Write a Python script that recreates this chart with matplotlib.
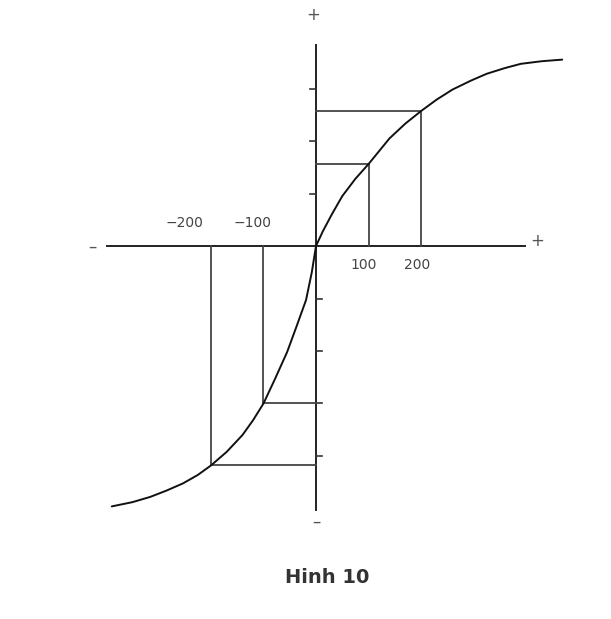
import matplotlib.pyplot as plt

# curve (x in units, y in units where one tick = 100)
curve_x = [-389, -350, -316, -285, -253, -225, -200, -170, -140, -120, -100,
           -78, -55, -37, -19, -8, 0,
           13, 30, 50, 75, 100, 140, 170, 200, 230, 260, 295, 325, 360, 390, 430, 469]
curve_y = [-496, -488, -478, -466, -452, -436, -418, -392, -360, -332, -300,
           -253, -202, -153, -103, -50, 0,
           28, 60, 95, 128, 156, 205, 233, 257, 279, 298, 315, 328, 339, 347, 352, 355]

# marked points with guide lines
mark_x = [-200, -100, 100, 200]
mark_y = [-418, -300, 156, 257]

x_labels = ["\u2212200", "\u2212100", "100", "200"]
y_ticks_up = [100, 200, 300]
y_ticks_down = [-400, -300, -200, -100]

fig = plt.figure(figsize=(6.11, 6.19), dpi=100)
ax = fig.add_axes([0, 0, 1, 1])
ax.set_xlim(-601.9, 561.9)
ax.set_ylim(-710.5, 468.6)
ax.axis("off")

# axes
ax.plot([-398, 398], [0, 0], color="#222222", lw=1.4)
ax.plot([0, 0], [-503, 383], color="#222222", lw=1.4)
for t in y_ticks_up:
    ax.plot([-12, 0], [t, t], color="#333333", lw=1.2)
for t in y_ticks_down:
    ax.plot([0, 12], [t, t], color="#333333", lw=1.2)

# guide lines
for mx, my in zip(mark_x, mark_y):
    ax.plot([mx, mx], [0, my], color="#444444", lw=1.3)
    ax.plot([0, mx], [my, my], color="#444444", lw=1.3)

# curve
ax.plot(curve_x, curve_y, color="#111111", lw=1.4,
        solid_joinstyle="round", solid_capstyle="round")

# labels
fs = 10
txt = dict(color="#444444", fontsize=fs, ha="center", va="center")
ax.text(-250, 44, x_labels[0], **txt)
ax.text(-120, 44, x_labels[1], **txt)
ax.text(90, -37, x_labels[2], **txt)
ax.text(193, -37, x_labels[3], **txt)

sign = dict(color="#555555", fontsize=12, ha="center", va="center")
ax.text(-425, -2, "\u2013", **sign)
ax.text(421, 9, "+", **sign)
ax.text(-6, 440, "+", **sign)
ax.text(0, -525, "\u2013", **sign)

ax.text(21, -632, "Hinh 10", fontsize=14, fontweight="bold",
        color="#333333", ha="center", va="center")

plt.savefig("out.png", dpi=100)
